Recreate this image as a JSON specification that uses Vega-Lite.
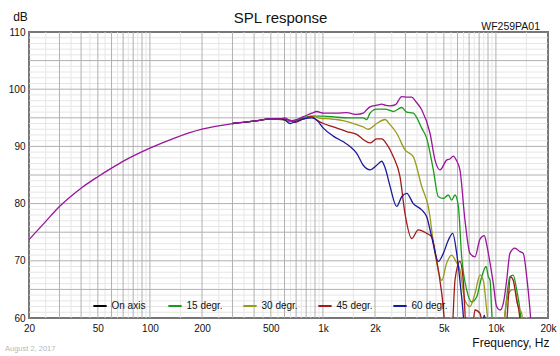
{
  "$schema": "https://vega.github.io/schema/vega-lite/v6.json",
  "width": 519,
  "height": 286,
  "autosize": {"type": "none"},
  "padding": {"left": 29, "top": 32, "right": 12, "bottom": 38},
  "background": "white",
  "config": {
    "view": {"stroke": "#000", "strokeWidth": 1.5},
    "font": "Liberation Sans",
    "axis": {"grid": false, "domain": false, "ticks": false, "tickSize": 0, "labelFont": "Liberation Sans", "labelFontSize": 10, "labelColor": "#111", "titleFont": "Liberation Sans", "titleFontWeight": "normal", "titleColor": "#111"}
  },
  "title": {"text": "SPL response", "fontSize": 15, "fontWeight": "normal", "font": "Liberation Sans", "color": "#111", "offset": -16, "anchor": "middle", "frame": "group", "dx": -8},
  "datasets": {
    "vgrid": [
      {"f": 20, "k": "M"}, {"f": 30, "k": "M"}, {"f": 40, "k": "M"}, {"f": 50, "k": "M"}, {"f": 60, "k": "M"}, {"f": 70, "k": "M"}, {"f": 80, "k": "M"}, {"f": 90, "k": "M"},
      {"f": 100, "k": "M"}, {"f": 200, "k": "M"}, {"f": 300, "k": "M"}, {"f": 400, "k": "M"}, {"f": 500, "k": "M"}, {"f": 600, "k": "M"}, {"f": 700, "k": "M"}, {"f": 800, "k": "M"}, {"f": 900, "k": "M"},
      {"f": 1000, "k": "M"}, {"f": 2000, "k": "M"}, {"f": 3000, "k": "M"}, {"f": 4000, "k": "M"}, {"f": 5000, "k": "M"}, {"f": 6000, "k": "M"}, {"f": 7000, "k": "M"}, {"f": 8000, "k": "M"}, {"f": 9000, "k": "M"},
      {"f": 10000, "k": "M"}, {"f": 20000, "k": "M"},
      {"f": 25, "k": "m"}, {"f": 35, "k": "m"}, {"f": 45, "k": "m"}, {"f": 55, "k": "m"}, {"f": 65, "k": "m"}, {"f": 75, "k": "m"}, {"f": 85, "k": "m"}, {"f": 95, "k": "m"},
      {"f": 150, "k": "m"}, {"f": 250, "k": "m"}, {"f": 350, "k": "m"}, {"f": 450, "k": "m"}, {"f": 550, "k": "m"}, {"f": 650, "k": "m"}, {"f": 750, "k": "m"}, {"f": 850, "k": "m"}, {"f": 950, "k": "m"},
      {"f": 1500, "k": "m"}, {"f": 2500, "k": "m"}, {"f": 3500, "k": "m"}, {"f": 4500, "k": "m"}, {"f": 5500, "k": "m"}, {"f": 6500, "k": "m"}, {"f": 7500, "k": "m"}, {"f": 8500, "k": "m"}, {"f": 9500, "k": "m"},
      {"f": 15000, "k": "m"}
    ],
    "hgrid": [
      {"db": 60, "k": "M"}, {"db": 65, "k": "M"}, {"db": 70, "k": "M"}, {"db": 75, "k": "M"}, {"db": 80, "k": "M"}, {"db": 85, "k": "M"}, {"db": 90, "k": "M"}, {"db": 95, "k": "M"}, {"db": 100, "k": "M"}, {"db": 105, "k": "M"}, {"db": 110, "k": "M"},
      {"db": 61, "k": "m"}, {"db": 62, "k": "m"}, {"db": 63, "k": "m"}, {"db": 64, "k": "m"}, {"db": 66, "k": "m"}, {"db": 67, "k": "m"}, {"db": 68, "k": "m"}, {"db": 69, "k": "m"},
      {"db": 71, "k": "m"}, {"db": 72, "k": "m"}, {"db": 73, "k": "m"}, {"db": 74, "k": "m"}, {"db": 76, "k": "m"}, {"db": 77, "k": "m"}, {"db": 78, "k": "m"}, {"db": 79, "k": "m"},
      {"db": 81, "k": "m"}, {"db": 82, "k": "m"}, {"db": 83, "k": "m"}, {"db": 84, "k": "m"}, {"db": 86, "k": "m"}, {"db": 87, "k": "m"}, {"db": 88, "k": "m"}, {"db": 89, "k": "m"},
      {"db": 91, "k": "m"}, {"db": 92, "k": "m"}, {"db": 93, "k": "m"}, {"db": 94, "k": "m"}, {"db": 96, "k": "m"}, {"db": 97, "k": "m"}, {"db": 98, "k": "m"}, {"db": 99, "k": "m"},
      {"db": 101, "k": "m"}, {"db": 102, "k": "m"}, {"db": 103, "k": "m"}, {"db": 104, "k": "m"}, {"db": 106, "k": "m"}, {"db": 107, "k": "m"}, {"db": 108, "k": "m"}, {"db": 109, "k": "m"}
    ],
    "curves": [
      {"s": "On axis", "f": 20, "db": 73.7}, {"s": "On axis", "f": 25, "db": 76.9}, {"s": "On axis", "f": 30, "db": 79.5}, {"s": "On axis", "f": 35, "db": 81.3}, {"s": "On axis", "f": 40, "db": 82.7},
      {"s": "On axis", "f": 50, "db": 84.7}, {"s": "On axis", "f": 60, "db": 86.2}, {"s": "On axis", "f": 72, "db": 87.6}, {"s": "On axis", "f": 100, "db": 89.7}, {"s": "On axis", "f": 140, "db": 91.5},
      {"s": "On axis", "f": 200, "db": 93.0}, {"s": "On axis", "f": 300, "db": 94.0}, {"s": "On axis", "f": 420, "db": 94.5}, {"s": "On axis", "f": 494, "db": 94.8}, {"s": "On axis", "f": 565, "db": 94.8},
      {"s": "On axis", "f": 604, "db": 95.0}, {"s": "On axis", "f": 645, "db": 94.5}, {"s": "On axis", "f": 690, "db": 94.6}, {"s": "On axis", "f": 771, "db": 95.2}, {"s": "On axis", "f": 862, "db": 95.8},
      {"s": "On axis", "f": 921, "db": 96.1}, {"s": "On axis", "f": 1005, "db": 95.8}, {"s": "On axis", "f": 1202, "db": 95.8}, {"s": "On axis", "f": 1372, "db": 95.9}, {"s": "On axis", "f": 1568, "db": 95.6},
      {"s": "On axis", "f": 1711, "db": 95.8}, {"s": "On axis", "f": 1790, "db": 96.4}, {"s": "On axis", "f": 1871, "db": 96.9}, {"s": "On axis", "f": 2046, "db": 97.2}, {"s": "On axis", "f": 2187, "db": 97.4},
      {"s": "On axis", "f": 2286, "db": 97.2}, {"s": "On axis", "f": 2444, "db": 97.1}, {"s": "On axis", "f": 2630, "db": 97.3}, {"s": "On axis", "f": 2854, "db": 98.7}, {"s": "On axis", "f": 3050, "db": 98.6},
      {"s": "On axis", "f": 3260, "db": 98.6}, {"s": "On axis", "f": 3450, "db": 97.8}, {"s": "On axis", "f": 3724, "db": 96.4}, {"s": "On axis", "f": 4160, "db": 92.3}, {"s": "On axis", "f": 4446, "db": 87.6},
      {"s": "On axis", "f": 4751, "db": 85.9}, {"s": "On axis", "f": 5190, "db": 87.6}, {"s": "On axis", "f": 5420, "db": 87.8}, {"s": "On axis", "f": 5675, "db": 88.3}, {"s": "On axis", "f": 5900, "db": 87.6},
      {"s": "On axis", "f": 6195, "db": 85.9}, {"s": "On axis", "f": 6622, "db": 77.1}, {"s": "On axis", "f": 7080, "db": 71.3}, {"s": "On axis", "f": 7568, "db": 70.7}, {"s": "On axis", "f": 8091, "db": 73.8},
      {"s": "On axis", "f": 8570, "db": 74.4}, {"s": "On axis", "f": 8850, "db": 72.8}, {"s": "On axis", "f": 9250, "db": 69.6}, {"s": "On axis", "f": 9660, "db": 66.0}, {"s": "On axis", "f": 10090, "db": 62.0},
      {"s": "On axis", "f": 10570, "db": 61.4}, {"s": "On axis", "f": 11040, "db": 62.6}, {"s": "On axis", "f": 11540, "db": 66.6}, {"s": "On axis", "f": 12050, "db": 71.3}, {"s": "On axis", "f": 12880, "db": 72.2},
      {"s": "On axis", "f": 13770, "db": 71.6}, {"s": "On axis", "f": 14390, "db": 71.3}, {"s": "On axis", "f": 15070, "db": 67.2}, {"s": "On axis", "f": 15740, "db": 61.4}, {"s": "On axis", "f": 16300, "db": 55},

      {"s": "15 degr.", "f": 300, "db": 94.0}, {"s": "15 degr.", "f": 420, "db": 94.5}, {"s": "15 degr.", "f": 494, "db": 94.8}, {"s": "15 degr.", "f": 565, "db": 94.8}, {"s": "15 degr.", "f": 645, "db": 94.4},
      {"s": "15 degr.", "f": 690, "db": 94.5}, {"s": "15 degr.", "f": 771, "db": 95.0}, {"s": "15 degr.", "f": 862, "db": 95.3}, {"s": "15 degr.", "f": 1005, "db": 95.3}, {"s": "15 degr.", "f": 1202, "db": 95.1},
      {"s": "15 degr.", "f": 1434, "db": 95.0}, {"s": "15 degr.", "f": 1711, "db": 95.0}, {"s": "15 degr.", "f": 1790, "db": 94.7}, {"s": "15 degr.", "f": 1871, "db": 95.8}, {"s": "15 degr.", "f": 2046, "db": 96.5},
      {"s": "15 degr.", "f": 2286, "db": 96.5}, {"s": "15 degr.", "f": 2444, "db": 96.3}, {"s": "15 degr.", "f": 2554, "db": 96.1}, {"s": "15 degr.", "f": 2854, "db": 96.8}, {"s": "15 degr.", "f": 3050, "db": 96.0},
      {"s": "15 degr.", "f": 3328, "db": 95.8}, {"s": "15 degr.", "f": 3724, "db": 93.2}, {"s": "15 degr.", "f": 3980, "db": 91.4}, {"s": "15 degr.", "f": 4346, "db": 85.9}, {"s": "15 degr.", "f": 4645, "db": 81.2},
      {"s": "15 degr.", "f": 4966, "db": 80.9}, {"s": "15 degr.", "f": 5305, "db": 81.5}, {"s": "15 degr.", "f": 5550, "db": 80.6}, {"s": "15 degr.", "f": 5800, "db": 81.5}, {"s": "15 degr.", "f": 6066, "db": 79.5},
      {"s": "15 degr.", "f": 6338, "db": 70.7}, {"s": "15 degr.", "f": 6776, "db": 64.9}, {"s": "15 degr.", "f": 7244, "db": 62.8}, {"s": "15 degr.", "f": 7745, "db": 63.7}, {"s": "15 degr.", "f": 8280, "db": 67.2},
      {"s": "15 degr.", "f": 8770, "db": 69.0}, {"s": "15 degr.", "f": 9040, "db": 67.2}, {"s": "15 degr.", "f": 9250, "db": 66.6}, {"s": "15 degr.", "f": 9460, "db": 61.0}, {"s": "15 degr.", "f": 9660, "db": 57},
      {"s": "15 degr.", "f": 11000, "db": 57}, {"s": "15 degr.", "f": 11280, "db": 60.5}, {"s": "15 degr.", "f": 12050, "db": 67.2}, {"s": "15 degr.", "f": 12590, "db": 67.5}, {"s": "15 degr.", "f": 13180, "db": 64.9},
      {"s": "15 degr.", "f": 13770, "db": 61.4}, {"s": "15 degr.", "f": 14200, "db": 57},

      {"s": "30 degr.", "f": 300, "db": 94.0}, {"s": "30 degr.", "f": 420, "db": 94.5}, {"s": "30 degr.", "f": 494, "db": 94.8}, {"s": "30 degr.", "f": 565, "db": 94.7}, {"s": "30 degr.", "f": 645, "db": 94.5},
      {"s": "30 degr.", "f": 771, "db": 94.8}, {"s": "30 degr.", "f": 880, "db": 95.3}, {"s": "30 degr.", "f": 962, "db": 94.9}, {"s": "30 degr.", "f": 1099, "db": 94.8}, {"s": "30 degr.", "f": 1312, "db": 94.5},
      {"s": "30 degr.", "f": 1498, "db": 94.0}, {"s": "30 degr.", "f": 1711, "db": 93.4}, {"s": "30 degr.", "f": 1830, "db": 93.0}, {"s": "30 degr.", "f": 2046, "db": 94.0}, {"s": "30 degr.", "f": 2286, "db": 94.7},
      {"s": "30 degr.", "f": 2444, "db": 93.8}, {"s": "30 degr.", "f": 2670, "db": 92.3}, {"s": "30 degr.", "f": 2980, "db": 89.4}, {"s": "30 degr.", "f": 3328, "db": 88.2}, {"s": "30 degr.", "f": 3724, "db": 83.0},
      {"s": "30 degr.", "f": 4064, "db": 79.5}, {"s": "30 degr.", "f": 4446, "db": 71.3}, {"s": "30 degr.", "f": 4863, "db": 66.6}, {"s": "30 degr.", "f": 5190, "db": 69.6}, {"s": "30 degr.", "f": 5550, "db": 71.0},
      {"s": "30 degr.", "f": 5870, "db": 69.9}, {"s": "30 degr.", "f": 6195, "db": 68.4}, {"s": "30 degr.", "f": 6622, "db": 63.1}, {"s": "30 degr.", "f": 7080, "db": 62.0}, {"s": "30 degr.", "f": 7568, "db": 64.3},
      {"s": "30 degr.", "f": 8091, "db": 67.5}, {"s": "30 degr.", "f": 8454, "db": 66.6}, {"s": "30 degr.", "f": 8850, "db": 61.4}, {"s": "30 degr.", "f": 9200, "db": 57}, {"s": "30 degr.", "f": 10800, "db": 57},
      {"s": "30 degr.", "f": 11540, "db": 63.1}, {"s": "30 degr.", "f": 12330, "db": 64.9}, {"s": "30 degr.", "f": 12880, "db": 65.0}, {"s": "30 degr.", "f": 13460, "db": 62.0}, {"s": "30 degr.", "f": 14090, "db": 60.8},
      {"s": "30 degr.", "f": 14500, "db": 57},

      {"s": "45 degr.", "f": 300, "db": 94.0}, {"s": "45 degr.", "f": 420, "db": 94.5}, {"s": "45 degr.", "f": 494, "db": 94.8}, {"s": "45 degr.", "f": 565, "db": 94.8}, {"s": "45 degr.", "f": 645, "db": 94.6},
      {"s": "45 degr.", "f": 690, "db": 94.2}, {"s": "45 degr.", "f": 771, "db": 94.8}, {"s": "45 degr.", "f": 862, "db": 95.2}, {"s": "45 degr.", "f": 921, "db": 94.6}, {"s": "45 degr.", "f": 1005, "db": 94.0},
      {"s": "45 degr.", "f": 1148, "db": 93.4}, {"s": "45 degr.", "f": 1372, "db": 92.6}, {"s": "45 degr.", "f": 1568, "db": 92.1}, {"s": "45 degr.", "f": 1711, "db": 91.2}, {"s": "45 degr.", "f": 1871, "db": 90.6},
      {"s": "45 degr.", "f": 2046, "db": 91.3}, {"s": "45 degr.", "f": 2187, "db": 91.3}, {"s": "45 degr.", "f": 2337, "db": 90.4}, {"s": "45 degr.", "f": 2554, "db": 88.2}, {"s": "45 degr.", "f": 2789, "db": 84.7},
      {"s": "45 degr.", "f": 2980, "db": 78.3}, {"s": "45 degr.", "f": 3260, "db": 73.9}, {"s": "45 degr.", "f": 3557, "db": 75.4}, {"s": "45 degr.", "f": 3980, "db": 74.8}, {"s": "45 degr.", "f": 4252, "db": 74.2},
      {"s": "45 degr.", "f": 4545, "db": 70.1}, {"s": "45 degr.", "f": 4863, "db": 64.3}, {"s": "45 degr.", "f": 5190, "db": 57}, {"s": "45 degr.", "f": 5550, "db": 57}, {"s": "45 degr.", "f": 5800, "db": 66.6},
      {"s": "45 degr.", "f": 6195, "db": 69.9}, {"s": "45 degr.", "f": 6471, "db": 66.6}, {"s": "45 degr.", "f": 6776, "db": 57}, {"s": "45 degr.", "f": 7300, "db": 58}, {"s": "45 degr.", "f": 7568, "db": 61.4},
      {"s": "45 degr.", "f": 8091, "db": 60.8}, {"s": "45 degr.", "f": 8600, "db": 57}, {"s": "45 degr.", "f": 11300, "db": 57}, {"s": "45 degr.", "f": 12160, "db": 67.2}, {"s": "45 degr.", "f": 12590, "db": 66.6},
      {"s": "45 degr.", "f": 13180, "db": 63.1}, {"s": "45 degr.", "f": 13650, "db": 60.8}, {"s": "45 degr.", "f": 14000, "db": 57},

      {"s": "60 degr.", "f": 300, "db": 94.0}, {"s": "60 degr.", "f": 420, "db": 94.5}, {"s": "60 degr.", "f": 494, "db": 94.8}, {"s": "60 degr.", "f": 565, "db": 94.8}, {"s": "60 degr.", "f": 604, "db": 94.6},
      {"s": "60 degr.", "f": 645, "db": 94.0}, {"s": "60 degr.", "f": 690, "db": 94.3}, {"s": "60 degr.", "f": 771, "db": 94.8}, {"s": "60 degr.", "f": 862, "db": 95.0}, {"s": "60 degr.", "f": 921, "db": 94.6},
      {"s": "60 degr.", "f": 1005, "db": 93.2}, {"s": "60 degr.", "f": 1148, "db": 91.8}, {"s": "60 degr.", "f": 1312, "db": 90.8}, {"s": "60 degr.", "f": 1434, "db": 90.0}, {"s": "60 degr.", "f": 1568, "db": 88.8},
      {"s": "60 degr.", "f": 1711, "db": 86.7}, {"s": "60 degr.", "f": 1871, "db": 85.9}, {"s": "60 degr.", "f": 2046, "db": 86.7}, {"s": "60 degr.", "f": 2187, "db": 87.4}, {"s": "60 degr.", "f": 2286, "db": 86.3},
      {"s": "60 degr.", "f": 2444, "db": 83.0}, {"s": "60 degr.", "f": 2670, "db": 79.5}, {"s": "60 degr.", "f": 2854, "db": 81.2}, {"s": "60 degr.", "f": 3050, "db": 81.8}, {"s": "60 degr.", "f": 3328, "db": 80.0},
      {"s": "60 degr.", "f": 3724, "db": 78.9}, {"s": "60 degr.", "f": 3980, "db": 77.7}, {"s": "60 degr.", "f": 4252, "db": 74.2}, {"s": "60 degr.", "f": 4645, "db": 69.9}, {"s": "60 degr.", "f": 4966, "db": 71.3},
      {"s": "60 degr.", "f": 5305, "db": 73.6}, {"s": "60 degr.", "f": 5625, "db": 74.8}, {"s": "60 degr.", "f": 5933, "db": 71.3}, {"s": "60 degr.", "f": 6338, "db": 63.7}, {"s": "60 degr.", "f": 6700, "db": 57},
      {"s": "60 degr.", "f": 8300, "db": 58.5}, {"s": "60 degr.", "f": 8570, "db": 60.5}, {"s": "60 degr.", "f": 8800, "db": 58.5}
    ]
  },
  "layer": [
    {
      "data": {"name": "vgrid"},
      "transform": [{"filter": "datum.k == 'm'"}],
      "mark": {"type": "rule", "color": "#e6e6e6", "strokeWidth": 1},
      "encoding": {"x": {"field": "f", "type": "quantitative", "scale": {"type": "log", "domain": [20, 20000], "nice": false}}}
    },
    {
      "data": {"name": "hgrid"},
      "transform": [{"filter": "datum.k == 'm'"}],
      "mark": {"type": "rule", "color": "#e6e6e6", "strokeWidth": 1},
      "encoding": {"y": {"field": "db", "type": "quantitative", "scale": {"domain": [60, 110], "nice": false, "zero": false}}}
    },
    {
      "data": {"name": "vgrid"},
      "transform": [{"filter": "datum.k == 'M'"}],
      "mark": {"type": "rule", "color": "#b0b0b0", "strokeWidth": 1},
      "encoding": {"x": {"field": "f", "type": "quantitative", "scale": {"type": "log", "domain": [20, 20000], "nice": false}}}
    },
    {
      "data": {"name": "hgrid"},
      "transform": [{"filter": "datum.k == 'M'"}],
      "mark": {"type": "rule", "color": "#b0b0b0", "strokeWidth": 1},
      "encoding": {"y": {"field": "db", "type": "quantitative", "scale": {"domain": [60, 110], "nice": false, "zero": false}}}
    },
    {
      "data": {"name": "curves"},
      "transform": [{"filter": "datum.s != 'On axis'"}],
      "mark": {"type": "line", "strokeWidth": 1.3, "clip": true, "interpolate": "monotone"},
      "encoding": {
        "x": {"field": "f", "type": "quantitative", "scale": {"type": "log", "domain": [20, 20000], "nice": false},
              "axis": {"values": [20, 50, 100, 200, 500, 1000, 2000, 5000, 10000, 20000], "labelExpr": "datum.value >= 1000 ? (datum.value / 1000) + 'k' : datum.value", "labelPadding": 5, "labelFlush": false, "labelOverlap": false,
                       "title": "Frequency, Hz", "titleFontSize": 12, "titleAnchor": "end", "titleAlign": "right", "titleBaseline": "alphabetic", "titleX": 520, "titleY": 28}},
        "y": {"field": "db", "type": "quantitative", "scale": {"domain": [60, 110], "nice": false, "zero": false},
              "axis": {"values": [60, 65, 70, 75, 80, 85, 90, 95, 100, 105, 110], "labelPadding": 4, "labelFlush": false, "labelOverlap": false,
                       "title": "dB", "titleAngle": 0, "titleFontSize": 12, "titleAlign": "center", "titleBaseline": "alphabetic", "titleX": -9, "titleY": -12}},
        "color": {"field": "s", "type": "nominal",
                  "scale": {"domain": ["On axis", "15 degr.", "30 degr.", "45 degr.", "60 degr."], "range": ["#000000", "#1a9a1a", "#9a9a1a", "#a01a1a", "#1a1a9a"]},
                  "legend": {"orient": "none", "legendX": 63, "legendY": 266, "direction": "horizontal", "columns": 5, "title": null, "symbolType": "stroke", "symbolSize": 177, "symbolStrokeWidth": 2, "labelFontSize": 10, "labelOffset": 3.5, "columnPadding": 16, "gridAlign": "all", "padding": 0, "labelColor": "#111", "labelFont": "Liberation Sans"}}
      }
    },
    {
      "data": {"name": "curves"},
      "transform": [{"filter": "datum.s == 'On axis'"}],
      "mark": {"type": "line", "strokeWidth": 1.3, "clip": true, "color": "#99159a", "interpolate": "monotone"},
      "encoding": {
        "x": {"field": "f", "type": "quantitative", "scale": {"type": "log", "domain": [20, 20000], "nice": false}},
        "y": {"field": "db", "type": "quantitative", "scale": {"domain": [60, 110], "nice": false, "zero": false}}
      }
    },
    {
      "data": {"values": [{"label": "WF259PA01"}]},
      "mark": {"type": "text", "align": "right", "baseline": "alphabetic", "fontSize": 10.5, "font": "Liberation Sans", "color": "#111", "dx": -8, "dy": -2.5},
      "encoding": {"x": {"datum": 20000, "type": "quantitative"}, "y": {"datum": 110, "type": "quantitative"}, "text": {"field": "label"}}
    },
    {
      "data": {"values": [{"label": "August 2, 2017"}]},
      "mark": {"type": "text", "align": "left", "baseline": "alphabetic", "fontSize": 7.5, "font": "Liberation Sans", "color": "#b8b8b8", "dx": -24, "dy": 33},
      "encoding": {"x": {"datum": 20, "type": "quantitative"}, "y": {"datum": 60, "type": "quantitative"}, "text": {"field": "label"}}
    }
  ]
}
